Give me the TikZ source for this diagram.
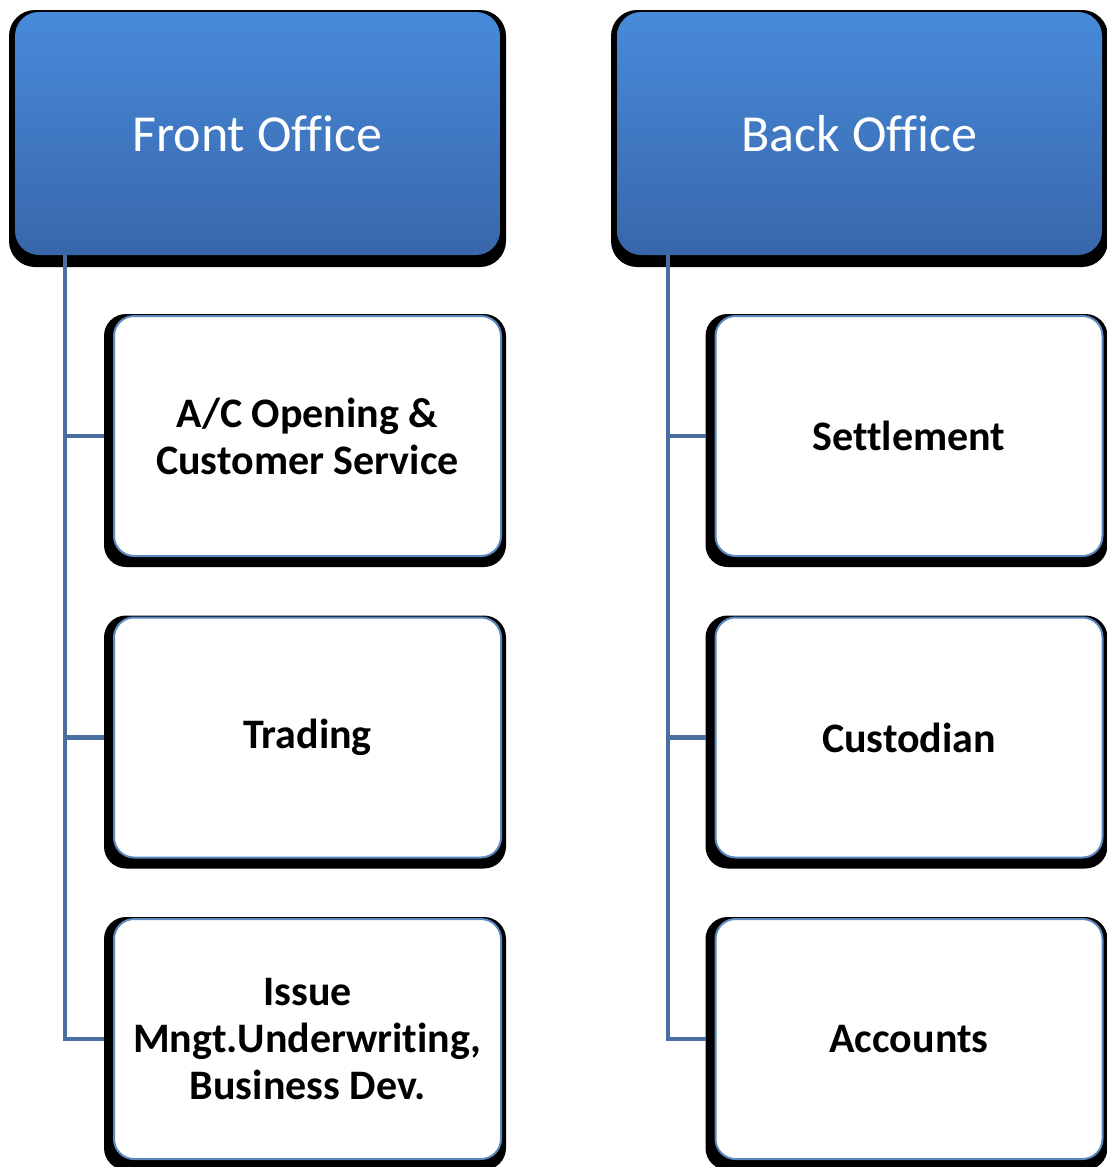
\documentclass[tikz,border=0pt]{standalone}
\usepackage{fontspec}
\setmainfont[Ligatures=NoCommon]{Carlito}
\usetikzlibrary{backgrounds}

\definecolor{headtop}{RGB}{72,138,218}
\definecolor{headbot}{RGB}{56,103,170}
\definecolor{linkblue}{RGB}{74,110,160}
\definecolor{rimblue}{RGB}{92,136,192}

\tikzset{
  headbox/.style={rounded corners=24pt, minimum width=485pt, minimum height=243pt,
    inner sep=0pt, outer sep=0pt, top color=headtop, bottom color=headbot,
    text=white, font=\fontsize{52}{62}\selectfont},
  childbox/.style={rounded corners=20pt, minimum width=387pt, minimum height=240pt,
    inner sep=0pt, outer sep=0pt, draw=rimblue, line width=2pt, fill=white,
    align=center, font=\fontsize{42}{47}\selectfont\bfseries},
  hardshadow/.style={fill=black, rounded corners=#1},
  link/.style={draw=linkblue, line width=4.5pt}
}

\begin{document}
\begin{tikzpicture}[x=1pt,y=1pt,yscale=-1]
\useasboundingbox (0,0) rectangle (1107,1167);

% Head Nodes
\node [headbox] (fo) at (257.5,133.5) {Front Office};
\node [headbox] (bo) at (859.5,133.5) {Back Office};

% Child Nodes (front)
\node [childbox] (ac) at (307.5,436) {A/C Opening \&\\Customer Service};
\node [childbox] (tr) at (307.5,737.5) {Trading};
\node [childbox] (is) at (307.5,1039) {Issue\\Mngt.Underwriting,\\Business Dev.};
% Child Nodes (back)
\node [childbox] (se) at (909,436) {Settlement};
\node [childbox] (cu) at (909,737.5) {Custodian};
\node [childbox] (acc) at (909,1039) {Accounts};

\begin{scope}[on background layer]
%Shadows
\foreach \n in {fo,bo}
  \fill [hardshadow=26pt] ([shift={(-6,-2)}]\n.north west) rectangle ([shift={(6,12)}]\n.south east);
\foreach \n in {ac,tr,is,se,cu,acc}
  \fill [hardshadow=22pt] ([shift={(-10,-2)}]\n.north west) rectangle ([shift={(5,11)}]\n.south east);

%Trunks
\coordinate (ftrunk) at ([xshift=50]fo.south west);
\coordinate (btrunk) at ([xshift=51]bo.south west);
\draw [link] (ftrunk) |- ([xshift=-10]is.west);
\draw [link] (btrunk) |- ([xshift=-10]acc.west);
%Branches
\foreach \n in {ac,tr}
  \draw [link] (ftrunk |- \n.west) -- ([xshift=-10]\n.west);
\foreach \n in {se,cu}
  \draw [link] (btrunk |- \n.west) -- ([xshift=-10]\n.west);
\end{scope}

\end{tikzpicture}
\end{document}
